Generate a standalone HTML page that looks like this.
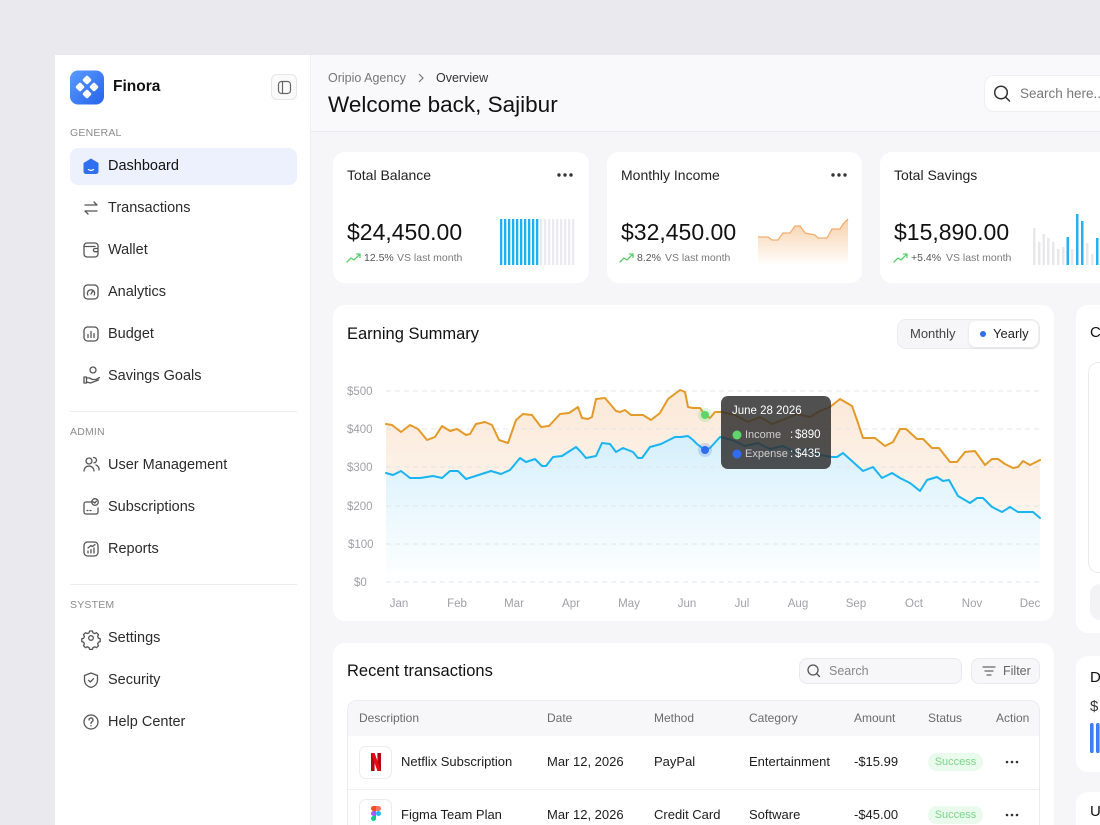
<!DOCTYPE html>
<html><head><meta charset="utf-8">
<style>
*{margin:0;padding:0;box-sizing:border-box}
html,body{width:1100px;height:825px;overflow:hidden;background:#e9e9ee;font-family:"Liberation Sans",Arial,sans-serif;color:#1a1a1a}
#root{position:relative;width:1100px;height:825px;overflow:hidden;background:#e9e9ee}
.a{position:absolute}
.t{position:absolute;white-space:nowrap;line-height:20px}
.card{position:absolute;background:#fff;border-radius:12px}
.nav{font-size:14.5px;color:#2b2b2b}
.sec{font-size:10.5px;color:#8c8c8c;letter-spacing:.2px}
.th{font-size:12px;color:#6b6b6b}
.td{font-size:13px;color:#1c1c1c}
.pill{position:absolute;width:55px;height:18px;border-radius:9px;background:#eafaec;color:#7ad48a;font-size:11px;line-height:18px;text-align:center}
</style></head><body>
<div id="root">

<!-- frame backgrounds -->
<div class="a" style="left:55px;top:55px;width:1045px;height:770px;background:#f6f6f9"></div>
<div class="a" style="left:55px;top:55px;width:256px;height:770px;background:#fff;border-right:1px solid #efeff2"></div>
<div class="a" style="left:311px;top:55px;width:789px;height:77px;background:#f9f8fb;border-bottom:1px solid #ebebef"></div>

<!-- sidebar bits -->
<div class="a" style="left:271px;top:74px;width:26px;height:26px;border:1px solid #e6e6ea;border-radius:6px;background:#fafafb"></div>
<div class="a" style="left:70px;top:148px;width:227px;height:37px;background:#edf1fd;border-radius:8px"></div>
<div class="a" style="left:70px;top:411px;width:227px;height:1px;background:#ededf0"></div>
<div class="a" style="left:70px;top:584px;width:227px;height:1px;background:#ededf0"></div>

<!-- header search -->
<div class="a" style="left:984px;top:75px;width:140px;height:37px;background:#fff;border-radius:10px;border:1px solid #efeff2"></div>

<!-- cards -->
<div class="card" style="left:333px;top:152px;width:256px;height:131px"></div>
<div class="card" style="left:607px;top:152px;width:255px;height:131px"></div>
<div class="card" style="left:880px;top:152px;width:240px;height:131px"></div>
<div class="card" style="left:333px;top:305px;width:721px;height:316px"></div>
<div class="card" style="left:333px;top:643px;width:721px;height:220px"></div>
<div class="card" style="left:1076px;top:305px;width:60px;height:328px"></div>
<div class="card" style="left:1076px;top:656px;width:60px;height:116px"></div>
<div class="card" style="left:1076px;top:792px;width:60px;height:60px"></div>

<!-- toggle -->
<div class="a" style="left:897px;top:319px;width:143px;height:30px;background:#f6f6f8;border:1px solid #ececf0;border-radius:9px"></div>
<div class="a" style="left:969px;top:321px;width:69px;height:26px;background:#fff;border-radius:7px;box-shadow:0 1px 3px rgba(0,0,0,.09)"></div>

<!-- recent tx controls -->
<div class="a" style="left:799px;top:658px;width:163px;height:26px;background:#f7f7f9;border:1px solid #e9e9ed;border-radius:8px"></div>
<div class="a" style="left:971px;top:658px;width:69px;height:26px;background:#f7f7f9;border:1px solid #e9e9ed;border-radius:8px"></div>

<!-- table -->
<div class="a" style="left:347px;top:700px;width:693px;height:160px;border:1px solid #ebebef;border-radius:10px;background:#fff"></div>
<div class="a" style="left:348px;top:701px;width:691px;height:35px;background:#f7f7f9;border-radius:9px 9px 0 0"></div>
<div class="a" style="left:348px;top:789px;width:691px;height:1px;background:#efeff1"></div>
<div class="a" style="left:359px;top:746px;width:33px;height:33px;border:1px solid #ececef;border-radius:7px;background:#fff"></div>
<div class="a" style="left:359px;top:799px;width:33px;height:33px;border:1px solid #ececef;border-radius:7px;background:#fff"></div>
<div class="pill" style="left:928px;top:753px">Success</div>
<div class="pill" style="left:928px;top:806px">Success</div>

<svg class="a" style="left:0;top:0" width="1100" height="825" viewBox="0 0 1100 825">
  <defs>
    <linearGradient id="lg" x1="0" y1="0" x2="1" y2="1">
      <stop offset="0" stop-color="#5a9bff"/><stop offset="1" stop-color="#2563eb"/>
    </linearGradient>
    <linearGradient id="og" x1="0" y1="390" x2="0" y2="520" gradientUnits="userSpaceOnUse">
      <stop offset="0" stop-color="#fce9d8"/><stop offset="1" stop-color="#fdf5ee"/>
    </linearGradient>
    <linearGradient id="bg" x1="0" y1="436" x2="0" y2="585" gradientUnits="userSpaceOnUse">
      <stop offset="0" stop-color="#d5effb"/><stop offset=".5" stop-color="#ebf8fe"/><stop offset="1" stop-color="#ffffff"/>
    </linearGradient>
    <linearGradient id="mg" x1="0" y1="218" x2="0" y2="266" gradientUnits="userSpaceOnUse">
      <stop offset="0" stop-color="#f8cfa8"/><stop offset="1" stop-color="#ffffff"/>
    </linearGradient>
  </defs>

  <!-- logo -->
  <rect x="70" y="70.5" width="34" height="34" rx="8" fill="url(#lg)"/>
  <g fill="#fff">
    <rect x="83.5" y="76.5" width="7" height="7" rx="1.8" transform="rotate(45 87 80)"/>
    <rect x="83.5" y="90.5" width="7" height="7" rx="1.8" transform="rotate(45 87 94)"/>
    <rect x="76.5" y="83.5" width="7" height="7" rx="1.8" transform="rotate(45 80 87)"/>
    <rect x="90.5" y="83.5" width="7" height="7" rx="1.8" transform="rotate(45 94 87)"/>
  </g>
  <rect x="278.5" y="81.5" width="12" height="12" rx="3" fill="none" stroke="#666" stroke-width="1.2"/>
  <line x1="282.5" y1="81.5" x2="282.5" y2="93.5" stroke="#666" stroke-width="1.2"/>

  <!-- nav icons -->
  <path d="M91 158.5 L98.5 163 V171.5 a2.5 2.5 0 0 1 -2.5 2.5 H86 a2.5 2.5 0 0 1 -2.5 -2.5 V163 Z" fill="#2f6ff0"/>
  <path d="M88.5 169.5 q2.5 1.8 5 0" stroke="#fff" stroke-width="1.3" fill="none" stroke-linecap="round"/>
  <g fill="none" stroke="#555" stroke-width="1.3" stroke-linecap="round" stroke-linejoin="round">
    <path d="M85 205 H97 M94 202 L97 205 M97 211 H85 M88 214 L85 211"/>
    <rect x="84" y="243" width="14" height="14" rx="3"/>
    <path d="M98 248.5 h-3 a1.6 1.6 0 0 0 0 3.2 h3 M84 246.5 h11"/>
    <rect x="84" y="285" width="14" height="14" rx="3.5"/>
    <path d="M87.8 295 a3.6 3.6 0 1 1 6.4 0 M91 294 L93 290.5"/>
    <rect x="84" y="327" width="14" height="14" rx="3.5"/>
    <path d="M88 337.5 v-3 M91 337.5 v-6 M94 337.5 v-4"/>
    <circle cx="93" cy="370" r="3"/>
    <path d="M84 377 v6 h2.5 v-6 Z M86.5 378 h3 l3 1.5 h3.5 l3.5 -2 M86.5 382 l4 1 l8 -3"/>
    <circle cx="89" cy="461" r="3"/>
    <path d="M84 471 a5 5 0 0 1 10 0"/>
    <path d="M93.5 457.5 a2.7 2.7 0 1 1 0.5 5.4 M96 465 a4.5 4.5 0 0 1 3 5"/>
    <path d="M93 502 H86 a2 2 0 0 0 -2 2 V512 a2 2 0 0 0 2 2 H96 a2 2 0 0 0 2 -2 V508"/>
    <circle cx="95" cy="502" r="3.3"/>
    <path d="M93.7 502 l1 1 l1.8 -1.9 M87 510.5 h1 M90 510.5 h1"/>
    <rect x="84" y="542" width="14" height="14" rx="3.5"/>
    <path d="M88 553 v-2 M91 553 v-3.5 M94 553 v-5 M88 548 l3 -2.5 l1.5 1 l2.5 -2"/>
    <circle cx="91" cy="638" r="2.3"/>
    <path d="M89.6 631 h2.8 l.6 1.8 l1.8 .8 l1.7 -.9 l2 2 l-.9 1.7 l.8 1.8 l1.8 .6 v2.8 l-1.8 .6 l-.8 1.8 l.9 1.7 l-2 2 l-1.7 -.9 l-1.8 .8 l-.6 1.8 h-2.8 l-.6 -1.8 l-1.8 -.8 l-1.7 .9 l-2 -2 l.9 -1.7 l-.8 -1.8 l-1.8 -.6 v-2.8 l1.8 -.6 l.8 -1.8 l-.9 -1.7 l2 -2 l1.7 .9 l1.8 -.8 Z"/>
    <path d="M91 673 L97.5 675.5 V680 C97.5 684 94.5 686.5 91 687.5 C87.5 686.5 84.5 684 84.5 680 V675.5 Z"/>
    <path d="M88.6 680.3 l1.7 1.7 l3.2 -3.3"/>
    <circle cx="91" cy="722" r="7"/>
    <path d="M89 720 a2 2 0 1 1 3 1.7 c-.8 .5 -1 1 -1 1.8 M91 725.6 v.2"/>
  </g>

  <!-- breadcrumb chevron & search icon -->
  <polyline points="419,74 423,78 419,82" fill="none" stroke="#777" stroke-width="1.2"/>
  <circle cx="1001" cy="92.5" r="6.3" fill="none" stroke="#333" stroke-width="1.5"/>
  <line x1="1005.5" y1="97" x2="1009.5" y2="101" stroke="#333" stroke-width="1.5" stroke-linecap="round"/>

  <!-- card dots -->
  <g fill="#333">
    <circle cx="559" cy="175" r="1.7"/><circle cx="565" cy="175" r="1.7"/><circle cx="571" cy="175" r="1.7"/>
    <circle cx="833" cy="175" r="1.7"/><circle cx="839" cy="175" r="1.7"/><circle cx="845" cy="175" r="1.7"/>
  </g>

  <!-- trend arrows -->
  <g fill="none" stroke="#5bcf6c" stroke-width="1.3" stroke-linecap="round" stroke-linejoin="round">
    <path d="M347 262 L351 258 L354 260 L360 254 M356.5 254 H360 V257.5"/>
    <path d="M620 262 L624 258 L627 260 L633 254 M629.5 254 H633 V257.5"/>
    <path d="M894 262 L898 258 L901 260 L907 254 M903.5 254 H907 V257.5"/>
  </g>

  <!-- total balance bars -->
  <g fill="#1eaff5">
    <rect x="500" y="219" width="2.3" height="46"/><rect x="504" y="219" width="2.3" height="46"/><rect x="508" y="219" width="2.3" height="46"/><rect x="512" y="219" width="2.3" height="46"/><rect x="516" y="219" width="2.3" height="46"/><rect x="520" y="219" width="2.3" height="46"/><rect x="524" y="219" width="2.3" height="46"/><rect x="528" y="219" width="2.3" height="46"/><rect x="532" y="219" width="2.3" height="46"/><rect x="536" y="219" width="2.3" height="46"/>
  </g>
  <g fill="#ebeaef">
    <rect x="540" y="219" width="2.3" height="46"/><rect x="544" y="219" width="2.3" height="46"/><rect x="548" y="219" width="2.3" height="46"/><rect x="552" y="219" width="2.3" height="46"/><rect x="556" y="219" width="2.3" height="46"/><rect x="560" y="219" width="2.3" height="46"/><rect x="564" y="219" width="2.3" height="46"/><rect x="568" y="219" width="2.3" height="46"/><rect x="572" y="219" width="2.3" height="46"/>
  </g>

  <!-- monthly income mini -->
  <polygon points="758,237 768,237 772,240 778,240 783,233 790,233 795,226 800,226 805,233 815,235 818,238 827,238 832,229 840,229 843,224 848,219 848,266 758,266" fill="url(#mg)"/>
  <polyline points="758,237 768,237 772,240 778,240 783,233 790,233 795,226 800,226 805,233 815,235 818,238 827,238 832,229 840,229 843,224 848,219" fill="none" stroke="#f1ae70" stroke-width="1.3"/>

  <!-- total savings bars -->
  <g fill="#e8e7ec">
    <rect x="1033" y="228" width="2.5" height="37"/><rect x="1038" y="242" width="2.5" height="23"/><rect x="1042.5" y="234" width="2.5" height="31"/><rect x="1047" y="238" width="2.5" height="27"/><rect x="1052" y="242" width="2.5" height="23"/><rect x="1057" y="249" width="2.5" height="16"/><rect x="1062" y="247" width="2.5" height="18"/><rect x="1071" y="249" width="2.5" height="16"/><rect x="1086" y="243" width="2.5" height="22"/><rect x="1091" y="254" width="2.5" height="11"/>
  </g>
  <g fill="#22b2f4">
    <rect x="1066.5" y="237" width="2.5" height="28"/><rect x="1076" y="214" width="2.5" height="51"/><rect x="1081" y="221" width="2.5" height="44"/><rect x="1096" y="238" width="2.5" height="27"/>
  </g>

  <!-- earning chart fills -->
  <polygon fill="url(#og)" points="386,424 392,425 401,432 410,425 418,429 427,440 435,437 442,426 450,431 457,429 466,435 470,434 476,424 485,422 492,425 499,440 508,443 516,420 523,414 532,415 541,427 549,426 560,414 569,413 578,407 582,418 588,419 592,417 596,399 605,398 616,411 620,412 625,410 631,415 643,415 651,420 660,413 668,399 680,390 685,392 688,407 693,408 700,408 705,415 710,418 715,412 722,412 735,415 748,422 760,417 772,424 785,419 797,414 810,417 820,411 830,407 840,399 852,406 857,420 863,438 875,438 885,446 893,442 900,429 906,429 917,439 923,439 932,448 939,448 950,462 957,462 965,452 975,451 985,465 992,459 998,459 1005,464 1013,468 1018,467 1023,461 1030,465 1040,460 1040,582 386,582"/>
  <polygon fill="url(#bg)" points="386,473 393,475 401,471 410,478 420,478 433,476 442,478 450,471 458,471 466,479 491,471 501,474 510,470 520,458 526,462 535,459 542,466 546,466 553,457 562,456 576,447 581,452 586,458 596,456 602,443 610,444 616,452 623,448 633,452 638,458 642,458 650,447 661,444 675,437 681,437 688,436 693,440 697,444 705,450 710,448 720,437 732,440 745,446 758,443 770,449 783,446 795,452 808,449 820,455 832,457 837,457 843,453 853,462 863,471 873,467 882,478 892,473 900,478 910,483 920,491 927,480 937,477 943,481 949,480 958,496 970,503 977,498 983,498 992,507 1002,512 1010,507 1018,512 1033,512 1040,518 1040,583 386,583"/>

  <!-- grid -->
  <g stroke="#e4e4e9" stroke-width="1" stroke-dasharray="5 4">
    <line x1="386" y1="391" x2="1040" y2="391"/><line x1="386" y1="429" x2="1040" y2="429"/><line x1="386" y1="467" x2="1040" y2="467"/><line x1="386" y1="506" x2="1040" y2="506"/><line x1="386" y1="544" x2="1040" y2="544"/><line x1="386" y1="582" x2="1040" y2="582"/>
  </g>

  <!-- lines -->
  <polyline fill="none" stroke="#e39a28" stroke-width="2" stroke-linejoin="round" stroke-linecap="round" points="386,424 392,425 401,432 410,425 418,429 427,440 435,437 442,426 450,431 457,429 466,435 470,434 476,424 485,422 492,425 499,440 508,443 516,420 523,414 532,415 541,427 549,426 560,414 569,413 578,407 582,418 588,419 592,417 596,399 605,398 616,411 620,412 625,410 631,415 643,415 651,420 660,413 668,399 680,390 685,392 688,407 693,408 700,408 705,415 710,418 715,412 722,412 735,415 748,422 760,417 772,424 785,419 797,414 810,417 820,411 830,407 840,399 852,406 857,420 863,438 875,438 885,446 893,442 900,429 906,429 917,439 923,439 932,448 939,448 950,462 957,462 965,452 975,451 985,465 992,459 998,459 1005,464 1013,468 1018,467 1023,461 1030,465 1040,460"/>
  <polyline fill="none" stroke="#19b5f2" stroke-width="2" stroke-linejoin="round" stroke-linecap="round" points="386,473 393,475 401,471 410,478 420,478 433,476 442,478 450,471 458,471 466,479 491,471 501,474 510,470 520,458 526,462 535,459 542,466 546,466 553,457 562,456 576,447 581,452 586,458 596,456 602,443 610,444 616,452 623,448 633,452 638,458 642,458 650,447 661,444 675,437 681,437 688,436 693,440 697,444 705,450 710,448 720,437 732,440 745,446 758,443 770,449 783,446 795,452 808,449 820,455 832,457 837,457 843,453 853,462 863,471 873,467 882,478 892,473 900,478 910,483 920,491 927,480 937,477 943,481 949,480 958,496 970,503 977,498 983,498 992,507 1002,512 1010,507 1018,512 1033,512 1040,518"/>

  <!-- markers -->
  <circle cx="705" cy="415" r="7" fill="#5fd56b" fill-opacity=".22"/>
  <circle cx="705" cy="415" r="4" fill="#5fd56b"/>
  <circle cx="705" cy="450" r="7" fill="#2f6cf0" fill-opacity=".2"/>
  <circle cx="705" cy="450" r="4" fill="#2f6cf0"/>

  <!-- axis labels -->
  <g font-family="Liberation Sans, Arial, sans-serif" font-size="11.5" fill="#a0a0a6">
    <text x="347" y="395">$500</text><text x="347" y="433">$400</text><text x="347" y="471">$300</text><text x="347" y="510">$200</text><text x="348" y="548">$100</text><text x="354" y="586">$0</text>
    <g text-anchor="middle">
      <text x="399" y="607">Jan</text><text x="457" y="607">Feb</text><text x="514" y="607">Mar</text><text x="571" y="607">Apr</text><text x="629" y="607">May</text><text x="687" y="607">Jun</text><text x="742" y="607">Jul</text><text x="798" y="607">Aug</text><text x="856" y="607">Sep</text><text x="914" y="607">Oct</text><text x="972" y="607">Nov</text><text x="1030" y="607">Dec</text>
    </g>
  </g>

  <!-- toggle dot -->
  <circle cx="983" cy="334" r="3" fill="#2f6cf0"/>

  <!-- recent controls icons -->
  <circle cx="813" cy="670" r="5" fill="none" stroke="#555" stroke-width="1.3"/>
  <line x1="816.7" y1="673.7" x2="819.5" y2="676.5" stroke="#555" stroke-width="1.3" stroke-linecap="round"/>
  <g stroke="#666" stroke-width="1.2" stroke-linecap="round">
    <line x1="983" y1="667" x2="995" y2="667"/><line x1="985" y1="671" x2="993" y2="671"/><line x1="987" y1="675" x2="991" y2="675"/>
  </g>

  <!-- netflix logo -->
  <rect x="371" y="753" width="3.6" height="18" fill="#b1060f"/>
  <rect x="377.4" y="753" width="3.6" height="18" fill="#b1060f"/>
  <polygon points="371,753 374.6,753 381,771 377.4,771" fill="#e50914"/>

  <!-- figma logo -->
  <g>
    <path d="M376 806 h-2.5 a2.5 2.5 0 0 0 0 5 h2.5 Z" fill="#f24e1e"/>
    <path d="M376 806 h2.5 a2.5 2.5 0 0 1 0 5 h-2.5 Z" fill="#ff7262"/>
    <path d="M376 811 h-2.5 a2.5 2.5 0 0 0 0 5 h2.5 Z" fill="#a259ff"/>
    <circle cx="378.5" cy="813.5" r="2.5" fill="#1abcfe"/>
    <path d="M376 816 h-2.5 a2.5 2.5 0 1 0 2.5 2.5 Z" fill="#0acf83"/>
  </g>

  <!-- action dots -->
  <g fill="#333">
    <circle cx="1007" cy="762" r="1.3"/><circle cx="1012" cy="762" r="1.3"/><circle cx="1017" cy="762" r="1.3"/>
    <circle cx="1007" cy="815" r="1.3"/><circle cx="1012" cy="815" r="1.3"/><circle cx="1017" cy="815" r="1.3"/>
  </g>

  <!-- right column -->
  <rect x="1088.5" y="362.5" width="40" height="210" rx="10" fill="none" stroke="#e9e9ec"/>
  <rect x="1090" y="584" width="40" height="36" rx="10" fill="#f3f3f6"/>
  <rect x="1090" y="723" width="3.6" height="30" rx="1.8" fill="#3d7df6"/>
  <rect x="1096" y="723" width="3.6" height="30" rx="1.8" fill="#3d7df6"/>
</svg>

<!-- tooltip -->
<div class="a" style="left:721px;top:396px;width:110px;height:73px;background:rgba(46,46,46,.84);border-radius:7px"></div>
<svg class="a" style="left:0;top:0" width="1100" height="825" viewBox="0 0 1100 825">
  <circle cx="737" cy="435" r="4.5" fill="#5fd56b"/>
  <circle cx="737" cy="454" r="4.5" fill="#2f6cf0"/>
</svg>
<div class="t" style="left:732px;top:401px;font-size:11.5px;color:#fff">June 28 2026</div>
<div class="t" style="left:745px;top:425px;font-size:11px;color:#cfcfcf">Income</div>
<div class="t" style="left:790px;top:425px;font-size:11.5px;color:#fff">:</div>
<div class="t" style="left:795px;top:425px;font-size:11.5px;color:#fff">$890</div>
<div class="t" style="left:745px;top:444px;font-size:11px;color:#cfcfcf">Expense</div>
<div class="t" style="left:790px;top:444px;font-size:11.5px;color:#fff">:</div>
<div class="t" style="left:795px;top:444px;font-size:11.5px;color:#fff">$435</div>

<!-- sidebar text -->
<div class="t" style="left:113px;top:77px;font-size:15.5px;font-weight:bold;color:#111">Finora</div>
<div class="t sec" style="left:70px;top:123px">GENERAL</div>
<div class="t nav" style="left:108px;top:156px;color:#111">Dashboard</div>
<div class="t nav" style="left:108px;top:198px">Transactions</div>
<div class="t nav" style="left:108px;top:240px">Wallet</div>
<div class="t nav" style="left:108px;top:282px">Analytics</div>
<div class="t nav" style="left:108px;top:324px">Budget</div>
<div class="t nav" style="left:108px;top:366px">Savings Goals</div>
<div class="t sec" style="left:70px;top:422px">ADMIN</div>
<div class="t nav" style="left:108px;top:455px">User Management</div>
<div class="t nav" style="left:108px;top:497px">Subscriptions</div>
<div class="t nav" style="left:108px;top:539px">Reports</div>
<div class="t sec" style="left:70px;top:595px">SYSTEM</div>
<div class="t nav" style="left:108px;top:628px">Settings</div>
<div class="t nav" style="left:108px;top:670px">Security</div>
<div class="t nav" style="left:108px;top:712px">Help Center</div>

<!-- header text -->
<div class="t" style="left:328px;top:68px;font-size:12.5px;color:#777">Oripio Agency</div>
<div class="t" style="left:436px;top:68px;font-size:12.5px;color:#333">Overview</div>
<div class="t" style="left:328px;top:93px;font-size:22.5px;line-height:24px;color:#111">Welcome back, Sajibur</div>
<div class="t" style="left:1020px;top:84px;font-size:13.5px;color:#777">Search here...</div>

<!-- card text -->
<div class="t" style="left:347px;top:165px;font-size:14px;color:#222">Total Balance</div>
<div class="t" style="left:621px;top:165px;font-size:14px;color:#222">Monthly Income</div>
<div class="t" style="left:894px;top:165px;font-size:14px;color:#222">Total Savings</div>
<div class="t" style="left:347px;top:220px;font-size:23px;line-height:24px;color:#111">$24,450.00</div>
<div class="t" style="left:621px;top:220px;font-size:23px;line-height:24px;color:#111">$32,450.00</div>
<div class="t" style="left:894px;top:220px;font-size:23px;line-height:24px;color:#111">$15,890.00</div>
<div class="t" style="left:364px;top:248px;font-size:10.5px;color:#555">12.5%</div>
<div class="t" style="left:397px;top:248px;font-size:10.5px;color:#7a7a7a">VS last month</div>
<div class="t" style="left:637px;top:248px;font-size:10.5px;color:#555">8.2%</div>
<div class="t" style="left:665px;top:248px;font-size:10.5px;color:#7a7a7a">VS last month</div>
<div class="t" style="left:911px;top:248px;font-size:10.5px;color:#555">+5.4%</div>
<div class="t" style="left:946px;top:248px;font-size:10.5px;color:#7a7a7a">VS last month</div>

<!-- earning -->
<div class="t" style="left:347px;top:324px;font-size:16.5px;color:#111">Earning Summary</div>
<div class="t" style="left:910px;top:324px;font-size:13px;color:#444">Monthly</div>
<div class="t" style="left:993px;top:324px;font-size:13px;color:#222">Yearly</div>

<!-- recent -->
<div class="t" style="left:347px;top:661px;font-size:16.5px;color:#111">Recent transactions</div>
<div class="t" style="left:829px;top:661px;font-size:12.5px;color:#888">Search</div>
<div class="t" style="left:1003px;top:661px;font-size:12.5px;color:#666">Filter</div>
<div class="t th" style="left:359px;top:708px">Description</div>
<div class="t th" style="left:547px;top:708px">Date</div>
<div class="t th" style="left:654px;top:708px">Method</div>
<div class="t th" style="left:749px;top:708px">Category</div>
<div class="t th" style="left:854px;top:708px">Amount</div>
<div class="t th" style="left:928px;top:708px">Status</div>
<div class="t th" style="left:996px;top:708px">Action</div>

<div class="t td" style="left:401px;top:752px">Netflix Subscription</div>
<div class="t td" style="left:547px;top:752px">Mar 12, 2026</div>
<div class="t td" style="left:654px;top:752px">PayPal</div>
<div class="t td" style="left:749px;top:752px">Entertainment</div>
<div class="t td" style="left:854px;top:752px">-$15.99</div>

<div class="t td" style="left:401px;top:805px">Figma Team Plan</div>
<div class="t td" style="left:547px;top:805px">Mar 12, 2026</div>
<div class="t td" style="left:654px;top:805px">Credit Card</div>
<div class="t td" style="left:749px;top:805px">Software</div>
<div class="t td" style="left:854px;top:805px">-$45.00</div>

<!-- right column text -->
<div class="t" style="left:1090px;top:323px;font-size:15px;color:#111">C</div>
<div class="t" style="left:1090px;top:668px;font-size:15px;color:#111">D</div>
<div class="t" style="left:1090px;top:697px;font-size:15px;color:#333">$</div>
<div class="t" style="left:1090px;top:802px;font-size:15px;color:#111">U</div>

</div>
</body></html>
